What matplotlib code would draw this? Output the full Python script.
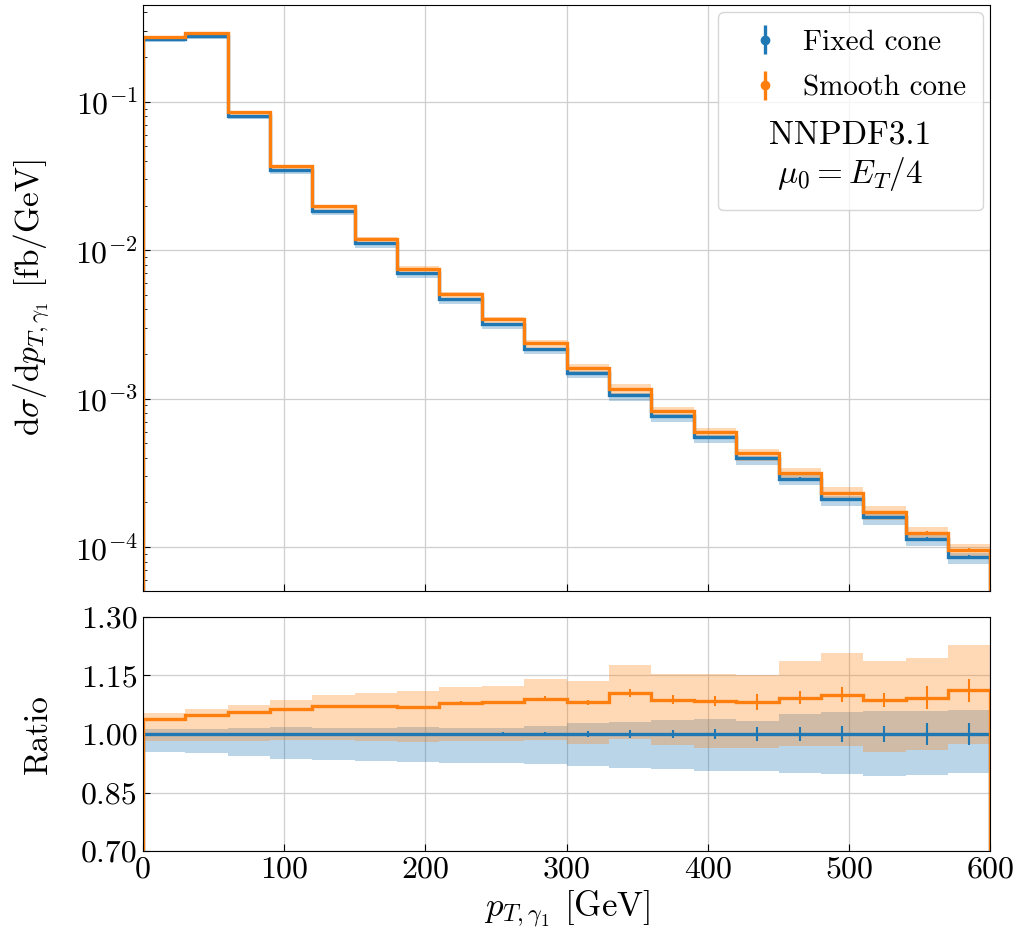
import numpy as np
import matplotlib.pyplot as plt

plt.rcParams['font.family'] = 'serif'
plt.rcParams['font.serif'] = ['cmr10']
plt.rcParams['mathtext.fontset'] = 'cm'
plt.rcParams['axes.formatter.use_mathtext'] = True

# bin edges in GeV (30 GeV bins)
edges = np.arange(0, 601, 30)

# fixed cone cross section [fb/GeV]
fixed = [0.264, 0.277, 0.0805, 0.0346, 0.0184, 0.0111, 0.00703, 0.0047,
         0.00317, 0.00216, 0.00150, 0.00106, 7.64e-4, 5.52e-4, 3.96e-4,
         2.90e-4, 2.11e-4, 1.59e-4, 1.14e-4, 8.57e-5]

# smooth cone / fixed cone
ratio = [1.039, 1.048, 1.057, 1.064, 1.071, 1.071, 1.070, 1.080, 1.081, 1.091,
         1.081, 1.105, 1.088, 1.084, 1.082, 1.093, 1.101, 1.087, 1.093, 1.112]

# scale variation bands, relative to fixed cone central value
fixed_lo = [0.955, 0.951, 0.944, 0.937, 0.934, 0.931, 0.929, 0.925, 0.925, 0.922,
            0.917, 0.914, 0.910, 0.906, 0.906, 0.901, 0.898, 0.893, 0.895, 0.900]
fixed_hi = [1.013, 1.013, 1.015, 1.017, 1.015, 1.015, 1.017, 1.015, 1.015, 1.021,
            1.028, 1.030, 1.037, 1.039, 1.034, 1.051, 1.056, 1.058, 1.058, 1.061]
smooth_lo = [0.981, 0.981, 0.981, 0.984, 0.984, 0.981, 0.979, 0.981, 0.983, 0.985,
             0.974, 0.987, 0.971, 0.964, 0.964, 0.968, 0.968, 0.954, 0.960, 0.975]
smooth_hi = [1.054, 1.063, 1.075, 1.088, 1.101, 1.104, 1.110, 1.121, 1.124, 1.142,
             1.137, 1.176, 1.155, 1.155, 1.150, 1.186, 1.207, 1.186, 1.195, 1.229]

# relative statistical errors
fixed_stat = [0.001, 0.001, 0.001, 0.001, 0.001, 0.002, 0.002, 0.003, 0.004, 0.006,
              0.007, 0.009, 0.010, 0.012, 0.019, 0.017, 0.020, 0.021, 0.028, 0.028]
smooth_stat = [0.001, 0.001, 0.001, 0.001, 0.002, 0.002, 0.003, 0.004, 0.004, 0.006,
               0.007, 0.011, 0.011, 0.013, 0.020, 0.016, 0.020, 0.019, 0.029, 0.029]

c_fix = '#1f77b4'
c_smo = '#ff7f0e'

fixed = np.array(fixed)
ratio = np.array(ratio)
smooth = fixed * ratio
centers = 0.5 * (edges[1:] + edges[:-1])

fig = plt.figure(figsize=(10.2, 9.46), dpi=100)
ax1 = fig.add_axes([0.140, 0.375, 0.831, 0.620])
ax2 = fig.add_axes([0.140, 0.1004, 0.831, 0.2474], sharex=ax1)

# top panel
ax1.stairs(fixed * np.array(fixed_hi), edges, baseline=fixed * np.array(fixed_lo),
           fill=True, color=c_fix, alpha=0.3, lw=0)
ax1.stairs(fixed * np.array(smooth_hi), edges, baseline=fixed * np.array(smooth_lo),
           fill=True, color=c_smo, alpha=0.3, lw=0)
ax1.stairs(fixed, edges, baseline=0, color=c_fix, lw=2.4)
ax1.errorbar(centers, fixed, yerr=fixed * np.array(fixed_stat), fmt='none', ecolor=c_fix, elinewidth=1.5)
ax1.stairs(smooth, edges, baseline=0, color=c_smo, lw=2.4)
ax1.errorbar(centers, smooth, yerr=smooth * np.array(smooth_stat), fmt='none', ecolor=c_smo, elinewidth=1.5)
ax1.set_yscale('log')
ax1.set_ylim(5.05e-5, 0.45)
ax1.set_ylabel(r'$\mathrm{d}\sigma/\mathrm{d}p_{T,\gamma_1}$ [fb/GeV]', fontsize=24)

# ratio panel
ax2.stairs(fixed_hi, edges, baseline=fixed_lo, fill=True, color=c_fix, alpha=0.3, lw=0)
ax2.stairs(smooth_hi, edges, baseline=smooth_lo, fill=True, color=c_smo, alpha=0.3, lw=0)
ax2.stairs(np.ones(len(fixed)), edges, baseline=0, color=c_fix, lw=2.4)
ax2.errorbar(centers, np.ones(len(fixed)), yerr=fixed_stat, fmt='none', ecolor=c_fix, elinewidth=1.5)
ax2.stairs(ratio, edges, baseline=0, color=c_smo, lw=2.4)
ax2.errorbar(centers, ratio, yerr=smooth_stat, fmt='none', ecolor=c_smo, elinewidth=1.5)
ax2.set_ylim(0.7, 1.3)
ax2.set_yticks([0.70, 0.85, 1.00, 1.15, 1.30])
ax2.set_yticklabels(['0.70', '0.85', '1.00', '1.15', '1.30'])
ax2.set_xlim(0, 600)
ax2.set_xticks(range(0, 601, 100))
ax2.set_ylabel('Ratio', fontsize=24)
ax2.set_xlabel(r'$p_{T,\gamma_1}$ [GeV]', fontsize=25)

for ax in (ax1, ax2):
    ax.grid(True, which='major', color='#cfcfcf', lw=0.9)
    ax.set_axisbelow(True)
    ax.tick_params(which='both', direction='in', labelsize=23)
    ax.tick_params(which='major', length=5)
    ax.tick_params(which='minor', length=3)
    ax.yaxis.set_label_coords(-0.107, 0.5)
plt.setp(ax1.get_xticklabels(), visible=False)

# legend with the PDF / scale info underneath the entries
h1 = ax1.errorbar([], [], yerr=[], fmt='o', color=c_fix, ms=6, elinewidth=2.4)
h2 = ax1.errorbar([], [], yerr=[], fmt='o', color=c_smo, ms=6, elinewidth=2.4)
leg = ax1.legend([h1, h2], ['Fixed cone', 'Smooth cone'], loc='upper right',
                 fontsize=21, title='NNPDF3.1\n$\\mu_0 = E_T/4$', title_fontsize=24,
                 framealpha=0.8, edgecolor='#cccccc', borderaxespad=0.25,
                 labelspacing=0.65, borderpad=0.6, handletextpad=0.3)
leg.get_title().set_multialignment('center')
leg._legend_box._children.reverse()

fig.savefig('out.png', dpi=100)
